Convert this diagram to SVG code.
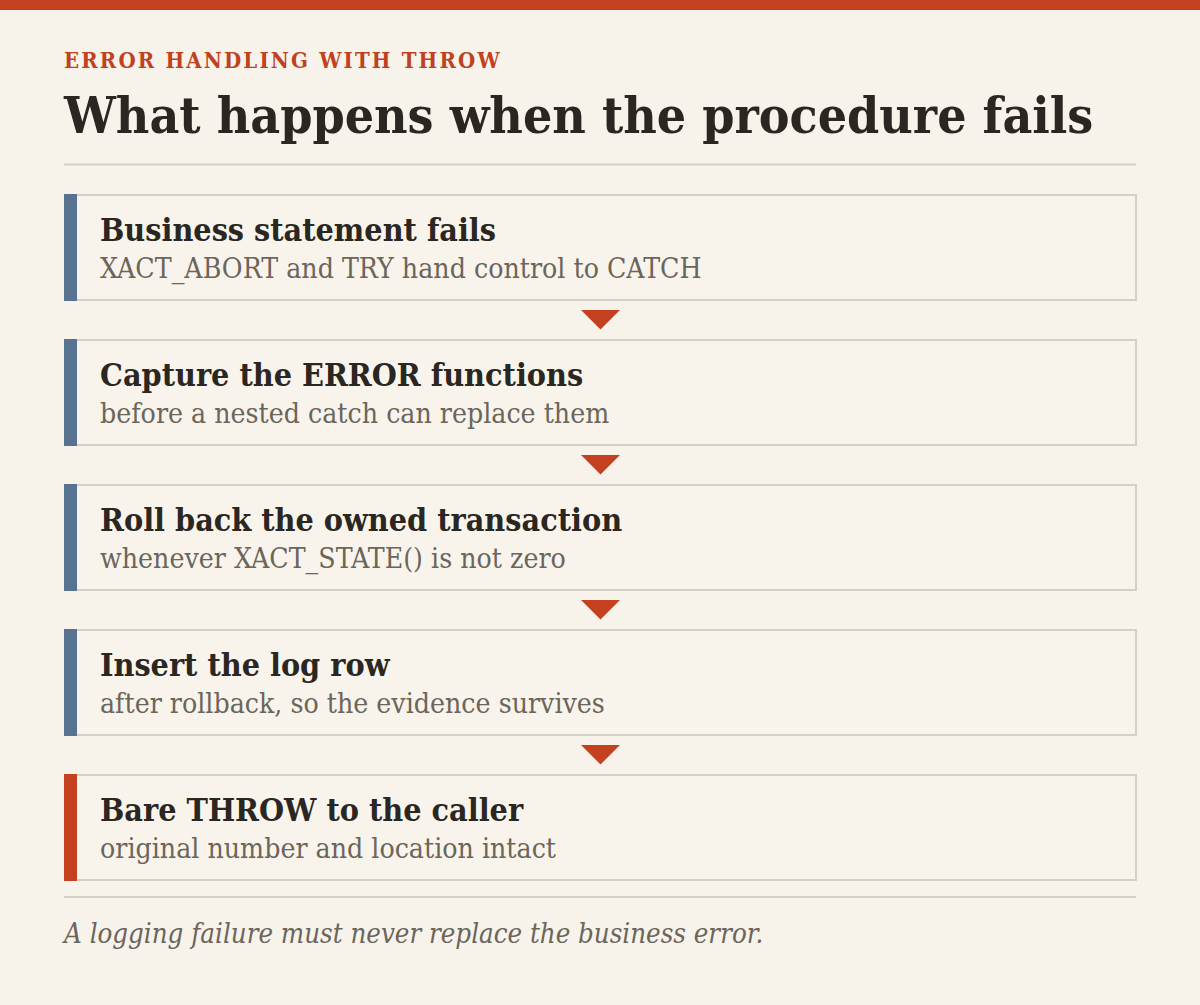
<svg xmlns="http://www.w3.org/2000/svg" width="1200" height="1005" viewBox="0 0 1200 1005">
<style>
text{font-family:"DejaVu Serif Condensed","DejaVu Serif",serif}
.eyebrow{font-size:22px;font-weight:700;fill:#c0411f;letter-spacing:2.15px}
.title{font-size:51.3px;font-weight:700;fill:#2a2622}
.rule{stroke:#d6cfc3;stroke-width:2}
.box{fill:#f8f4eb;stroke:#d6cfc3;stroke-width:2}
.bar{fill:#587390}
.bar.accent{fill:#c4411f}
.h{font-size:32px;font-weight:700;fill:#2a2622}
.s{font-size:28.2px;fill:#6b655b}
.arrow{fill:#c4411f}
.foot{font-size:27.4px;font-style:italic;fill:#6b655b}
</style>
<rect x="0" y="0" width="1200" height="1005" fill="#f7f3ea"/>
<rect x="0" y="0" width="1200" height="10" fill="#c4411f"/>
<text class="eyebrow" x="64" y="68">ERROR HANDLING WITH THROW</text>
<text class="title" x="64" y="133">What happens when the procedure fails</text>
<line class="rule" x1="64" y1="164.5" x2="1136" y2="164.5"/>
<g id="connectors">
<polygon class="arrow" points="581,310 620,310 600.5,329.5"/>
<polygon class="arrow" points="581,455 620,455 600.5,474.5"/>
<polygon class="arrow" points="581,600 620,600 600.5,619.5"/>
<polygon class="arrow" points="581,745 620,745 600.5,764.5"/>
</g>
<g id="step1">
<rect class="box" x="70" y="195" width="1066" height="105"/>
<rect class="bar" x="64" y="194" width="13" height="107"/>
<text class="h" x="100" y="241">Business statement fails</text>
<text class="s" x="100" y="278">XACT_ABORT and TRY hand control to CATCH</text>
</g>
<g id="step2">
<rect class="box" x="70" y="340" width="1066" height="105"/>
<rect class="bar" x="64" y="339" width="13" height="107"/>
<text class="h" x="100" y="386">Capture the ERROR functions</text>
<text class="s" x="100" y="423">before a nested catch can replace them</text>
</g>
<g id="step3">
<rect class="box" x="70" y="485" width="1066" height="105"/>
<rect class="bar" x="64" y="484" width="13" height="107"/>
<text class="h" x="100" y="531">Roll back the owned transaction</text>
<text class="s" x="100" y="568">whenever XACT_STATE() is not zero</text>
</g>
<g id="step4">
<rect class="box" x="70" y="630" width="1066" height="105"/>
<rect class="bar" x="64" y="629" width="13" height="107"/>
<text class="h" x="100" y="676">Insert the log row</text>
<text class="s" x="100" y="713">after rollback, so the evidence survives</text>
</g>
<g id="step5">
<rect class="box" x="70" y="775" width="1066" height="105"/>
<rect class="bar accent" x="64" y="774" width="13" height="107"/>
<text class="h" x="100" y="821">Bare THROW to the caller</text>
<text class="s" x="100" y="858">original number and location intact</text>
</g>
<line class="rule" x1="64" y1="897" x2="1136" y2="897"/>
<text class="foot" x="64" y="943">A logging failure must never replace the business error.</text>
</svg>
